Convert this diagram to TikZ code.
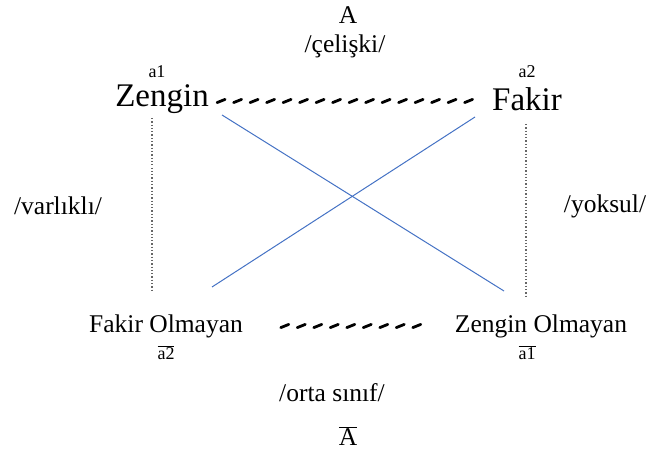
\documentclass[tikz,border=0pt]{standalone}
\usepackage{fontspec}
\setmainfont{Liberation Serif}
\usetikzlibrary{decorations.markings}
\definecolor{lineblue}{RGB}{68,114,196}
\tikzset{
  lbl/.style={inner sep=0pt,font=\fontsize{25.5}{28}\selectfont},
  big/.style={inner sep=0pt,font=\fontsize{33}{36}\selectfont},
  small/.style={inner sep=0pt,font=\fontsize{18}{20}\selectfont},
  slantdash/.style={decoration={markings,
      mark=between positions 0.02 and 1 step 16.5pt with {\draw[line width=2.8pt,line cap=round] (-4pt,-1.6pt) -- (4pt,1.6pt);}},
      decorate},
  dotline/.style={draw=gray!80!black,line width=1.3pt,dash pattern=on 1.3pt off 2pt},
  cross/.style={draw=lineblue,line width=1pt},
}
\begin{document}
\begin{tikzpicture}[x=1pt,y=-1pt]
\useasboundingbox (0,0) rectangle (652,457);
\node[lbl] (A) at (348,15) {A};
\node[lbl] (cel) at (345,46) {/çelişki/};
\node[small] (a1) at (157,72) {a1};
\node[small] (a2) at (527,72) {a2};
\node[big] (z) at (162,99) {Zengin};
\node[big] (f) at (527,99) {Fakir};
\node[lbl] (var) at (58,206) {/varlıklı/};
\node[lbl] (yok) at (605,206) {/yoksul/};
\node[lbl] (fo) at (166,326) {Fakir Olmayan};
\node[lbl] (zo) at (541,326) {Zengin Olmayan};
\node[small] (na2) at (166,353) {$\overline{\mbox{a2}}$};
\node[small] (na1) at (527,353) {$\overline{\mbox{a1}}$};
\node[lbl] (orta) at (332,393) {/orta sınıf/};
\node[lbl] (nA) at (348,436) {$\overline{\mbox{A}}$};
% dashed connectors
\coordinate (t1) at (216,101);
\coordinate (t2) at (470,101);
\path[slantdash] (t1) -- (t2);
\coordinate (b1) at (282,326);
\coordinate (b2) at (420,326);
\path[slantdash] (b1) -- (b2);
% dotted verticals
\coordinate (l1) at (152,118);
\coordinate (l2) at (152,292);
\draw[dotline] (l1) -- (l2);
\coordinate (r1) at (526,124);
\coordinate (r2) at (526,296);
\draw[dotline] (r1) -- (r2);
% blue cross
\coordinate (c1) at (222,115);
\coordinate (c2) at (504,291);
\coordinate (c3) at (475,117);
\coordinate (c4) at (212,287);
\draw[cross] (c1) -- (c2);
\draw[cross] (c3) -- (c4);
\end{tikzpicture}
\end{document}
